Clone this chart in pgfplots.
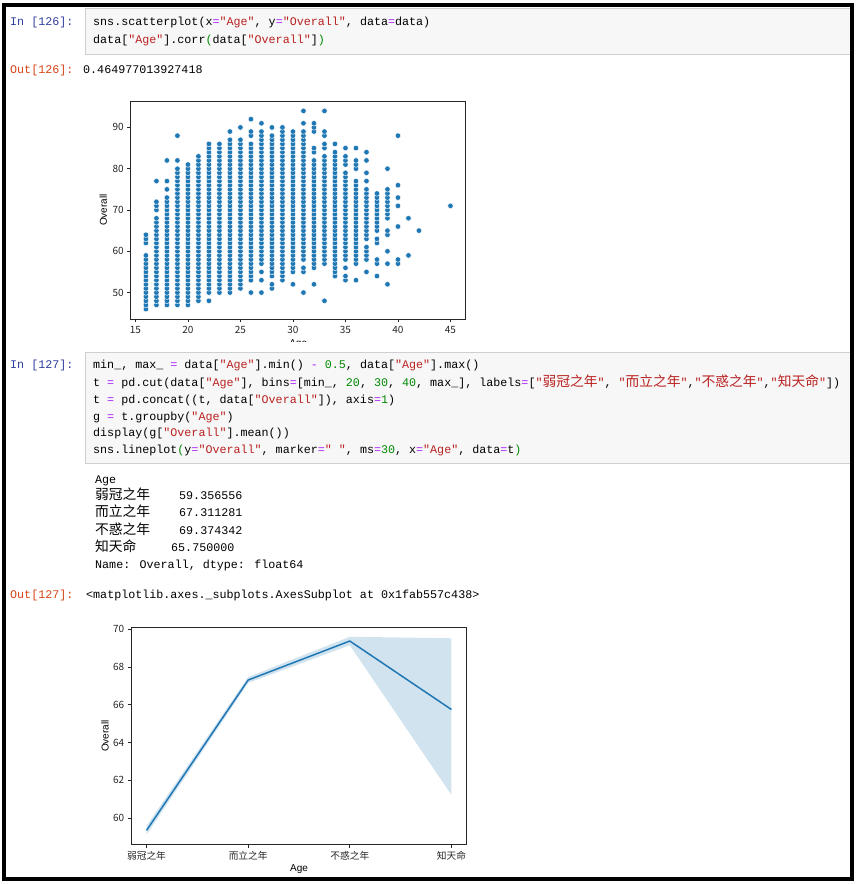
\documentclass[border=0pt]{standalone}
\usepackage{pgfplots}
\pgfplotsset{compat=1.18}
\usepackage{fontspec}
\setmainfont{Liberation Sans}
\newfontfamily\mono{Liberation Mono}
\newfontfamily\cjkfont{Noto Sans CJK SC}

\definecolor{sbblue}{HTML}{1F77B4}
\definecolor{kw}{HTML}{AA22FF}
\definecolor{str}{HTML}{BA2121}
\definecolor{num}{HTML}{008800}
\definecolor{inblue}{HTML}{303F9F}
\definecolor{outred}{HTML}{D84315}
\definecolor{cellbg}{HTML}{F7F7F7}
\definecolor{cellbd}{HTML}{CFCFCF}
\definecolor{dark}{HTML}{262626}

\newcommand\cjk[1]{{\cjkfont\fontsize{13.75}{16}\selectfont #1}}
\newcommand\K[1]{\textcolor{kw}{#1}}
\newcommand\Q[1]{\textcolor{str}{#1}}
\newcommand\N[1]{\textcolor{num}{#1}}

\pgfplotsset{
  nb/.style={
    anchor=south west, scale only axis,
    axis line style={line width=0.8pt, dark},
    tick style={line width=0.8pt, dark},
    major tick length=3.5pt, tick align=outside, tick pos=left,
    /pgf/number format/assume math mode=true,
    ticklabel style={font=\cjkfont\fontsize{10}{12}\selectfont, text=dark},
    label style={font=\cjkfont\fontsize{9}{11}\selectfont, text=dark},
    every axis y label/.style={at={(axis description cs:-0.082,0.5)}, rotate=90, anchor=center},
    every axis x label/.style={at={(axis description cs:0.5,-0.114)}, anchor=center},
  },
}

\begin{document}
\begin{tikzpicture}[x=1pt, y=1pt,
  code/.style={anchor=base west, inner sep=0pt, font=\mono\fontsize{11.7}{14}\selectfont}]
\path[use as bounding box] (0,0) rectangle (856,884);
\fill[white] (0,0) rectangle (856,884);

% cell 126
\filldraw[fill=cellbg, draw=cellbd] (85.5,884-8.5) rectangle (853,884-54);
\node[code, text=inblue] at (10,884-26) {In [126]:};
\node[code] at (93,884-26) {sns.scatterplot(x\K{=}\Q{"Age"}, y\K{=}\Q{"Overall"}, data\K{=}data)};
\node[code] at (93,884-44) {data[\Q{"Age"}].corr\N{(}data[\Q{"Overall"}]\N{)}};
\node[code, text=outred] at (10,884-74) {Out[126]:};
\node[code] at (83,884-74) {0.464977013927418};

% scatter
\begin{axis}[nb, at={(130.7pt,565pt)}, width=335pt, height=218pt,
  xmin=14.55, xmax=46.45, ymin=43.6, ymax=96.4,
  xtick={15,20,...,45}, ytick={50,60,...,90},
  xlabel={Age}, ylabel={Overall}]
\addplot[only marks, mark=*, mark size=2.75pt, mark options={fill=sbblue, draw=white, line width=0.4pt}] coordinates {
(16,46)(16,47)(16,48)(16,49)(16,50)(16,51)(16,52)(16,53)(16,54)(16,55)(16,56)(16,57)(16,58)(16,59)(16,62)(16,63)(16,64)
(17,47)(17,48)(17,49)(17,50)(17,51)(17,52)(17,53)(17,54)(17,55)(17,56)(17,57)(17,58)(17,59)(17,60)(17,61)(17,62)(17,63)(17,64)(17,65)(17,66)(17,67)(17,68)(17,70)(17,71)(17,72)(17,77)
(18,47)(18,48)(18,49)(18,50)(18,51)(18,52)(18,53)(18,54)(18,55)(18,56)(18,57)(18,58)(18,59)(18,60)(18,61)(18,62)(18,63)(18,64)(18,65)(18,66)(18,67)(18,68)(18,69)(18,70)(18,71)(18,72)(18,73)(18,75)(18,77)(18,82)
(19,47)(19,48)(19,49)(19,50)(19,51)(19,52)(19,53)(19,54)(19,55)(19,56)(19,57)(19,58)(19,59)(19,60)(19,61)(19,62)(19,63)(19,64)(19,65)(19,66)(19,67)(19,68)(19,69)(19,70)(19,71)(19,72)(19,73)(19,74)(19,75)(19,76)(19,77)(19,78)(19,79)(19,80)(19,82)(19,88)
(20,47)(20,48)(20,49)(20,50)(20,51)(20,52)(20,53)(20,54)(20,55)(20,56)(20,57)(20,58)(20,59)(20,60)(20,61)(20,62)(20,63)(20,64)(20,65)(20,66)(20,67)(20,68)(20,69)(20,70)(20,71)(20,72)(20,73)(20,74)(20,75)(20,76)(20,77)(20,78)(20,79)(20,80)(20,81)
(21,48)(21,49)(21,50)(21,51)(21,52)(21,53)(21,54)(21,55)(21,56)(21,57)(21,58)(21,59)(21,60)(21,61)(21,62)(21,63)(21,64)(21,65)(21,66)(21,67)(21,68)(21,69)(21,70)(21,71)(21,72)(21,73)(21,74)(21,75)(21,76)(21,77)(21,78)(21,79)(21,80)(21,81)(21,82)(21,83)
(22,48)(22,50)(22,51)(22,52)(22,53)(22,54)(22,55)(22,56)(22,57)(22,58)(22,59)(22,60)(22,61)(22,62)(22,63)(22,64)(22,65)(22,66)(22,67)(22,68)(22,69)(22,70)(22,71)(22,72)(22,73)(22,74)(22,75)(22,76)(22,77)(22,78)(22,79)(22,80)(22,81)(22,82)(22,83)(22,84)(22,85)(22,86)
(23,50)(23,51)(23,52)(23,53)(23,54)(23,55)(23,56)(23,57)(23,58)(23,59)(23,60)(23,61)(23,62)(23,63)(23,64)(23,65)(23,66)(23,67)(23,68)(23,69)(23,70)(23,71)(23,72)(23,73)(23,74)(23,75)(23,76)(23,77)(23,78)(23,79)(23,80)(23,81)(23,82)(23,83)(23,84)(23,85)(23,86)
(24,50)(24,51)(24,52)(24,53)(24,54)(24,55)(24,56)(24,57)(24,58)(24,59)(24,60)(24,61)(24,62)(24,63)(24,64)(24,65)(24,66)(24,67)(24,68)(24,69)(24,70)(24,71)(24,72)(24,73)(24,74)(24,75)(24,76)(24,77)(24,78)(24,79)(24,80)(24,81)(24,82)(24,83)(24,84)(24,85)(24,86)(24,87)(24,89)
(25,51)(25,52)(25,53)(25,54)(25,55)(25,56)(25,57)(25,58)(25,59)(25,60)(25,61)(25,62)(25,63)(25,64)(25,65)(25,66)(25,67)(25,68)(25,69)(25,70)(25,71)(25,72)(25,73)(25,74)(25,75)(25,76)(25,77)(25,78)(25,79)(25,80)(25,81)(25,82)(25,83)(25,84)(25,85)(25,86)(25,87)(25,90)
(26,50)(26,53)(26,54)(26,55)(26,56)(26,57)(26,58)(26,59)(26,60)(26,61)(26,62)(26,63)(26,64)(26,65)(26,66)(26,67)(26,68)(26,69)(26,70)(26,71)(26,72)(26,73)(26,74)(26,75)(26,76)(26,77)(26,78)(26,79)(26,80)(26,81)(26,82)(26,83)(26,84)(26,85)(26,86)(26,88)(26,89)(26,92)
(27,50)(27,53)(27,55)(27,57)(27,58)(27,59)(27,60)(27,61)(27,62)(27,63)(27,64)(27,65)(27,66)(27,67)(27,68)(27,69)(27,70)(27,71)(27,72)(27,73)(27,74)(27,75)(27,76)(27,77)(27,78)(27,79)(27,80)(27,81)(27,82)(27,83)(27,84)(27,85)(27,86)(27,87)(27,88)(27,89)(27,91)
(28,51)(28,52)(28,54)(28,55)(28,56)(28,57)(28,58)(28,59)(28,60)(28,61)(28,62)(28,63)(28,64)(28,65)(28,66)(28,67)(28,68)(28,69)(28,70)(28,71)(28,72)(28,73)(28,74)(28,75)(28,76)(28,77)(28,78)(28,79)(28,80)(28,81)(28,82)(28,83)(28,84)(28,85)(28,86)(28,87)(28,88)(28,90)
(29,53)(29,54)(29,55)(29,56)(29,57)(29,58)(29,59)(29,60)(29,61)(29,62)(29,63)(29,64)(29,65)(29,66)(29,67)(29,68)(29,69)(29,70)(29,71)(29,72)(29,73)(29,74)(29,75)(29,76)(29,77)(29,78)(29,79)(29,80)(29,81)(29,82)(29,83)(29,84)(29,85)(29,86)(29,87)(29,88)(29,89)(29,90)
(30,52)(30,55)(30,56)(30,57)(30,58)(30,59)(30,60)(30,61)(30,62)(30,63)(30,64)(30,65)(30,66)(30,67)(30,68)(30,69)(30,70)(30,71)(30,72)(30,73)(30,74)(30,75)(30,76)(30,77)(30,78)(30,79)(30,80)(30,81)(30,82)(30,83)(30,84)(30,85)(30,86)(30,87)(30,88)(30,89)
(31,50)(31,55)(31,56)(31,58)(31,59)(31,60)(31,61)(31,62)(31,63)(31,64)(31,65)(31,66)(31,67)(31,68)(31,69)(31,70)(31,71)(31,72)(31,73)(31,74)(31,75)(31,76)(31,77)(31,78)(31,79)(31,80)(31,81)(31,82)(31,83)(31,84)(31,85)(31,86)(31,87)(31,88)(31,89)(31,91)(31,94)
(32,52)(32,56)(32,57)(32,58)(32,59)(32,60)(32,61)(32,62)(32,63)(32,64)(32,65)(32,66)(32,67)(32,68)(32,69)(32,70)(32,71)(32,72)(32,73)(32,74)(32,75)(32,76)(32,77)(32,78)(32,79)(32,80)(32,81)(32,82)(32,84)(32,85)(32,89)(32,90)(32,91)
(33,48)(33,57)(33,58)(33,59)(33,60)(33,61)(33,62)(33,63)(33,64)(33,65)(33,66)(33,67)(33,68)(33,69)(33,70)(33,71)(33,72)(33,73)(33,74)(33,75)(33,76)(33,77)(33,78)(33,79)(33,80)(33,81)(33,82)(33,83)(33,85)(33,86)(33,88)(33,89)(33,94)
(34,54)(34,55)(34,56)(34,57)(34,58)(34,59)(34,60)(34,61)(34,62)(34,63)(34,64)(34,65)(34,66)(34,67)(34,68)(34,69)(34,70)(34,71)(34,72)(34,73)(34,74)(34,75)(34,76)(34,77)(34,78)(34,79)(34,80)(34,81)(34,82)(34,83)(34,84)(34,86)
(35,53)(35,54)(35,56)(35,58)(35,59)(35,60)(35,61)(35,62)(35,63)(35,64)(35,65)(35,66)(35,67)(35,68)(35,69)(35,70)(35,71)(35,72)(35,73)(35,74)(35,75)(35,76)(35,77)(35,78)(35,79)(35,81)(35,82)(35,83)(35,85)
(36,53)(36,57)(36,58)(36,59)(36,60)(36,61)(36,62)(36,63)(36,64)(36,65)(36,66)(36,67)(36,68)(36,69)(36,70)(36,71)(36,72)(36,73)(36,74)(36,75)(36,76)(36,77)(36,80)(36,81)(36,82)(36,85)
(37,55)(37,58)(37,59)(37,60)(37,61)(37,63)(37,64)(37,65)(37,66)(37,67)(37,68)(37,69)(37,70)(37,71)(37,72)(37,73)(37,74)(37,75)(37,77)(37,79)(37,82)(37,84)
(38,54)(38,57)(38,58)(38,62)(38,63)(38,65)(38,66)(38,67)(38,68)(38,69)(38,70)(38,71)(38,72)(38,73)(38,74)
(39,52)(39,57)(39,60)(39,64)(39,65)(39,68)(39,69)(39,70)(39,71)(39,72)(39,73)(39,74)(39,75)(39,80)
(40,57)(40,58)(40,66)(40,71)(40,73)(40,76)(40,88)
(41,59)(41,68)
(42,65)
(45,71)
};
\end{axis}
\fill[white] (90,884-342) rectangle (480,884-351);

% cell 127
\filldraw[fill=cellbg, draw=cellbd] (85.5,884-352) rectangle (853,884-463);
\node[code, text=inblue] at (10,884-369) {In [127]:};
\node[code] at (93,884-369) {min\_, max\_ \K{=} data[\Q{"Age"}].min() \K{-} \N{0.5}, data[\Q{"Age"}].max()};
\node[code] at (93,884-386.5) {t \K{=} pd.cut(data[\Q{"Age"}], bins\K{=}[min\_, \N{20}, \N{30}, \N{40}, max\_], labels\K{=}[\Q{"\cjk{弱冠之年}"}, \Q{"\cjk{而立之年}"},\Q{"\cjk{不惑之年}"},\Q{"\cjk{知天命}"}])};
\node[code] at (93,884-404) {t \K{=} pd.concat((t, data[\Q{"Overall"}]), axis\K{=}\N{1})};
\node[code] at (93,884-420.5) {g \K{=} t.groupby(\Q{"Age"})};
\node[code] at (93,884-437) {display(g[\Q{"Overall"}].mean())};
\node[code] at (93,884-454) {sns.lineplot\N{(}y\K{=}\Q{"Overall"}, marker\K{=}\Q{" "}, ms\K{=}\N{30}, x\K{=}\Q{"Age"}, data\K{=}t\N{)}};

% printed output
\node[code] at (95,884-484) {Age};
\node[code] at (95,884-500) {\cjk{弱冠之年}};
\node[code] at (179,884-500) {59.356556};
\node[code] at (95,884-517) {\cjk{而立之年}};
\node[code] at (179,884-517) {67.311281};
\node[code] at (95,884-534.5) {\cjk{不惑之年}};
\node[code] at (179,884-534.5) {69.374342};
\node[code] at (95,884-551.5) {\cjk{知天命}};
\node[code] at (171,884-551.5) {65.750000};
\node[code] at (95,884-569) {Name: Overall, dtype: float64};
\node[code, text=outred] at (10,884-599) {Out[127]:};
\node[code] at (86,884-599) {<matplotlib.axes.\_subplots.AxesSubplot at 0x1fab557c438>};

% line plot
\begin{axis}[nb, at={(131.3pt,39.7pt)}, width=335.4pt, height=216.6pt,
  xmin=-0.15, xmax=3.15, ymin=58.62, ymax=70.08,
  xtick={0,1,2,3}, xticklabels={弱冠之年,而立之年,不惑之年,知天命},
  ytick={60,62,...,70},
  xticklabel style={font=\cjkfont\fontsize{9.7}{12}\selectfont},
  xlabel={Age}, ylabel={Overall},
  every axis y label/.style={at={(axis description cs:-0.078,0.5)}, rotate=90, anchor=center}]
\addplot[fill=sbblue, fill opacity=0.2, draw=none] coordinates {
  (0,59.12)(1,67.16)(2,69.15)(3,61.23)(3,69.52)(2,69.6)(1,67.47)(0,59.6)} -- cycle;
\addplot[sbblue, line width=1.5pt] coordinates {
  (0,59.356556)(1,67.311281)(2,69.374342)(3,65.75)};
\end{axis}

% outer frame
\draw[line width=4pt] (4.3,884-5) rectangle (852.3,884-878.7);
\end{tikzpicture}
\end{document}
